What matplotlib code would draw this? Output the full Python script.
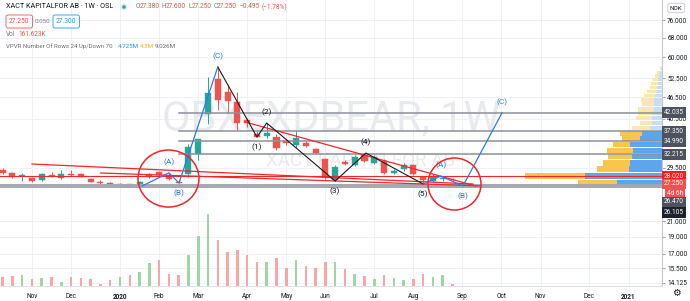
import numpy as np
import matplotlib
matplotlib.use("Agg")
import matplotlib.pyplot as plt
from matplotlib.patches import Ellipse
from matplotlib.ticker import NullLocator
import matplotlib.transforms as mtrans

plt.rcParams['font.family'] = ['Roboto', 'DejaVu Sans']

# ---------------- data ----------------
# week index: 0 = week of 6 Jan 2020 (weekly bars)
weeks = list(range(-12, 35))
opens = [29.10, 28.60, 27.95, 27.70, 27.30, 28.20, 27.66, 28.35, 28.38, 27.50, 27.00, 26.75,
         26.45, 26.60, 26.40, 27.80, 28.70, 28.10, 27.00, 28.30, 32.30, 41.70, 52.20, 48.00,
         45.00, 40.10, 36.70, 36.20, 36.00, 35.10, 34.20, 34.60, 33.30, 31.25, 27.25, 30.65,
         30.07, 32.06, 30.46, 30.85, 28.57, 29.31, 30.07, 27.84, 27.14, 27.55, 27.38]
highs = [29.50, 28.80, 28.50, 27.90, 28.50, 28.80, 29.10, 29.10, 28.60, 27.70, 27.30, 26.90,
         26.80, 26.70, 27.10, 28.60, 28.90, 28.60, 27.30, 34.50, 35.60, 52.90, 56.40, 50.20,
         48.00, 40.70, 37.40, 39.36, 36.80, 35.50, 37.60, 35.00, 33.60, 31.50, 30.00, 31.05,
         32.00, 32.47, 32.10, 31.30, 29.40, 30.40, 30.30, 28.00, 28.30, 28.10, 27.60]
lows = [28.40, 27.60, 27.20, 27.00, 27.10, 27.90, 27.50, 28.00, 27.80, 26.90, 26.60, 26.40,
        26.30, 26.10, 26.30, 27.70, 28.00, 27.30, 26.75, 27.80, 31.00, 39.00, 42.80, 42.00,
        37.60, 38.40, 35.98, 35.70, 33.20, 34.20, 33.50, 33.70, 32.20, 27.50, 27.14, 30.00,
        29.90, 30.70, 30.30, 28.40, 28.30, 29.00, 28.20, 26.62, 26.90, 27.20, 27.25]
closes = [28.57, 27.90, 28.20, 27.10, 28.35, 28.00, 28.38, 28.20, 27.90, 27.00, 26.75, 26.50,
          26.60, 26.20, 26.95, 28.40, 28.20, 27.50, 26.85, 33.70, 35.50, 47.70, 45.60, 45.30,
          39.40, 39.40, 36.10, 36.90, 33.50, 34.60, 35.70, 34.00, 32.50, 27.84, 29.70, 30.26,
          31.65, 30.85, 31.65, 28.57, 28.93, 30.07, 28.38, 27.31, 28.02, 27.745, 27.25]
volume_k = [850, 950, 1050, 650, 750, 850, 350, 850, 750, 650, 150, 550,
            850, 1050, 1350, 2250, 2550, 1150, 1050, 3050, 5000, 7150, 4550, 3350,
            3550, 3050, 2350, 2350, 2750, 1750, 2550, 1950, 1750, 2350, 2350, 1700,
            1150, 950, 650, 1050, 750, 550, 650, 1150, 850, 1050, 162]

# Visible-range volume profile (24 rows, bottom to top), thousands of shares
vp_up_k = [488, 835, 358, 347, 326, 315, 347, 239, 217, 130, 108, 108,
           108, 87, 87, 87, 76, 65, 54, 43, 43, 33, 22, 11]
vp_down_k = [423, 651, 347, 293, 260, 282, 184, 195, 239, 195, 130, 174,
             152, 174, 130, 141, 119, 98, 76, 76, 65, 43, 33, 11]

tick_weeks = [-9, -5, 0, 4, 8, 13, 17, 21, 26, 30, 35, 39, 43, 48, 52]
tick_labels = ['Nov', 'Dec', '2020', 'Feb', 'Mar', 'Apr', 'May', 'Jun', 'Jul',
               'Aug', 'Sep', 'Oct', 'Nov', 'Dec', '2021']
price_ticks = [76.0, 68.0, 60.0, 52.5, 46.5, 40.5, 29.5, 21.0, 19.0, 17.0, 15.5, 14.125]

# drawings
resistance_levels = [42.035, 37.35, 34.99, 32.215]
resistance_start_week = 6.0
support_levels = [26.47, 26.105]
poc_level = 28.02
last_price = 27.25

trend_long_w = [-9.0, 36.1]
trend_long_p = [30.26, 26.62]
trend_low_w = [-2.0, 36.8]
trend_low_p = [28.57, 26.30]
trend_up_w = [12.8, 36.4]
trend_up_p = [39.61, 26.28]

wave_black_w = [10.0, 14.0, 15.0, 22.0, 25.15, 31.0]
wave_black_p = [56.40, 35.98, 39.36, 27.14, 32.47, 26.62]
wave_black_lbl = ['', '(1)', '(2)', '(3)', '(4)', '(5)']
wave_black_dir = [0, -1, 1, -1, 1, -1]

wave_blue1_w = [2.25, 5.0, 6.03, 10.0]
wave_blue1_p = [26.28, 28.60, 26.79, 56.40]
wave_blue2_w = [31.0, 32.8, 35.07, 39.06]
wave_blue2_p = [26.62, 28.02, 26.28, 42.0]
blue_lbl = ['', '(A)', '(B)', '(C)']
blue_dir = [0, 1, -1, 1]

circles_w = [4.96, 34.2]
circles_p = [27.57, 26.62]

# ---------------- styling ----------------
GREEN = '#26a69a'
RED = '#ef5350'
VGREEN = '#9ed6a8'
VRED = '#f7a7a5'
LINE_RED = '#f0262b'
BLUE = '#2f7ae5'
GRAY_LINE = '#8d9099'
TXT = '#131722'
GRID = '#eff1f6'

FW, FH = 690.0, 301.0
PW, PH = 662.0, 285.5
rect = [0.0, 1 - PH / FH, PW / FW, PH / FH]
XLIM = (-12.27, 55.42)
YLIM = (13.89, 86.6)

fig = plt.figure(figsize=(FW / 100, FH / 100), dpi=100)
fig.patch.set_facecolor('white')


def setup(a, logy=True):
    a.set_xlim(*XLIM)
    if logy:
        a.set_yscale('log')
        a.set_ylim(*YLIM)
    a.patch.set_visible(False)
    for s in a.spines.values():
        s.set_visible(False)
    a.set_xticks([])
    a.set_yticks([])
    a.yaxis.set_minor_locator(NullLocator())
    a.xaxis.set_minor_locator(NullLocator())


# background: grid + watermark
ax_bg = fig.add_axes(rect, zorder=0)
setup(ax_bg)
for t in tick_weeks:
    ax_bg.axvline(t, color=GRID, lw=0.7)
for p in price_ticks:
    ax_bg.axhline(p, color=GRID, lw=0.7)
ax_bg.text(331 / PW, 1 - 119 / PH, 'OBXEXDBEAR, 1W', transform=ax_bg.transAxes,
           ha='center', va='center', fontsize=30, color='#e8eaee')
ax_bg.text(361 / PW, 1 - 161 / PH, 'XACT KAPITALFOR AB', transform=ax_bg.transAxes,
           ha='center', va='center', fontsize=13.5, color='#e8eaee')

# volume
ax_vol = fig.add_axes(rect, zorder=1)
setup(ax_vol, logy=False)
ax_vol.set_ylim(0, 28550)
up = np.array(closes) >= np.array(opens)
ax_vol.bar(weeks, volume_k, width=0.26, color=[VGREEN if u else VRED for u in up])

# volume profile
ax_vp = fig.add_axes(rect, zorder=2)
setup(ax_vp)
ax_vp.set_xlim(7200, 0)
vu = np.array(vp_up_k, float)
vd = np.array(vp_down_k, float)
tot = vu + vd
edges = np.linspace(min(lows), max(highs), len(vu) + 1)
step = edges[1] - edges[0]
poc = int(np.argmax(tot))
va = {poc}
acc = tot[poc]
lo_i, hi_i = poc, poc
while acc < 0.7 * tot.sum():
    below = tot[lo_i - 1] if lo_i > 0 else -1
    above = tot[hi_i + 1] if hi_i < len(tot) - 1 else -1
    if above >= below:
        hi_i += 1
        va.add(hi_i)
        acc += tot[hi_i]
    else:
        lo_i -= 1
        va.add(lo_i)
        acc += tot[lo_i]
up_cols = ['#5da6ec' if i in va else '#c4dff6' for i in range(len(vu))]
dn_cols = ['#f8c64e' if i in va else '#fce6b2' for i in range(len(vu))]
ax_vp.barh(edges[:-1] + step * 0.06, vu, height=step * 0.88, left=0, align='edge',
           color=up_cols, lw=0)
ax_vp.barh(edges[:-1] + step * 0.06, vd, height=step * 0.88, left=vu, align='edge',
           color=dn_cols, lw=0)

# main price axes
ax = fig.add_axes(rect, zorder=3)
ax.set_xlim(*XLIM)
ax.set_yscale('log')
ax.set_ylim(*YLIM)
ax.patch.set_visible(False)

o = np.array(opens); c = np.array(closes); h = np.array(highs); l = np.array(lows)
cols = [GREEN if u else RED for u in up]
ax.vlines(weeks, l, h, colors=cols, lw=0.7, zorder=3)
blo = np.minimum(o, c)
bh = np.maximum(np.maximum(o, c) - blo, 0.07)
ax.bar(weeks, bh, bottom=blo, width=0.62, color=cols, edgecolor=cols, lw=0.3, zorder=4)

# horizontal drawings
for p in resistance_levels:
    ax.plot([resistance_start_week, XLIM[1]], [p, p], color=GRAY_LINE, lw=1.1, zorder=5)
for p in support_levels:
    ax.axhline(p, color='#a4a7b0', lw=1.4, zorder=5)
ax.axhline(poc_level, color=LINE_RED, lw=0.8, zorder=5)

# trend lines
for tw, tp in [(trend_long_w, trend_long_p), (trend_low_w, trend_low_p), (trend_up_w, trend_up_p)]:
    ax.plot(tw, tp, color=LINE_RED, lw=0.9, zorder=6)

# waves
ax.plot(wave_black_w, wave_black_p, color='#1a1a1a', lw=0.8, zorder=7)
ax.plot(wave_blue1_w, wave_blue1_p, color=BLUE, lw=0.9, zorder=7)
ax.plot(wave_blue2_w, wave_blue2_p, color=BLUE, lw=0.9, zorder=7)


def wave_labels(ws, ps, labels, dirs, color):
    for w, p, s, d in zip(ws, ps, labels, dirs):
        if s:
            ax.annotate(s, (w, p), xytext=(0, 7.5 * d), textcoords='offset points',
                        ha='center', va='center', fontsize=6, color=color, zorder=8)


wave_labels(wave_black_w, wave_black_p, wave_black_lbl, wave_black_dir, TXT)
wave_labels(wave_blue1_w, wave_blue1_p, blue_lbl, blue_dir, BLUE)
wave_labels(wave_blue2_w, wave_blue2_p, blue_lbl, blue_dir, BLUE)

# circles
for cw, cp, rx, ry in zip(circles_w, circles_p, [30.5, 26.5], [28.5, 26.0]):
    axc = ax.transAxes.inverted().transform(ax.transData.transform((cw, cp)))
    ax.add_patch(Ellipse(axc, 2 * rx / PW, 2 * ry / PH, transform=ax.transAxes,
                         fill=False, ec=LINE_RED, lw=1.1, zorder=8))

# axes styling
for s in ['top', 'left']:
    ax.spines[s].set_visible(False)
ax.spines['right'].set_color('#c5c8cf')
ax.spines['right'].set_linewidth(0.8)
ax.spines['bottom'].set_color('#e0e3eb')
ax.spines['bottom'].set_linewidth(0.8)
ax.yaxis.tick_right()
ax.set_yticks(price_ticks)
ax.set_yticklabels([f'{p:.3f}' for p in price_ticks])
ax.yaxis.set_minor_locator(NullLocator())
ax.tick_params(axis='y', length=2.5, width=0.5, color='#787b86', labelsize=4.7,
               labelcolor=TXT, pad=1.2)
ax.set_xticks(tick_weeks)
ax.set_xticklabels(tick_labels)
ax.tick_params(axis='x', length=0, labelsize=4.7, labelcolor=TXT, pad=5.2)
for lbl in ax.get_xticklabels():
    if lbl.get_text().isdigit():
        lbl.set_fontweight('bold')

# price tags on the right axis
bt = mtrans.blended_transform_factory(ax.transAxes, ax.transData)
tags = [(42.035, '42.035', '#4c525e', 0), (37.35, '37.350', '#4c525e', 0),
        (34.99, '34.990', '#4c525e', 0), (32.215, '32.215', '#4c525e', 0),
        (poc_level, '28.020', '#ff1a1a', 0), (last_price, '27.250', RED, -2.6),
        (last_price, '4d 6h', RED, -9.3), (support_levels[0], '26.470', '#4c525e', -12.3),
        (support_levels[1], '26.105', '#1e222d', -18.0)]
for p, s, fc, dy in tags:
    dx = 3.5 if s == '4d 6h' else 1.2
    ax.annotate(s, (1.0, p), xycoords=bt, xytext=(dx, dy), textcoords='offset points',
                ha='left', va='center', fontsize=4.7, color='white', annotation_clip=False,
                bbox=dict(boxstyle='square,pad=0.3', fc=fc, ec='none'), zorder=10)


# header texts
def ftext(x, y, s, **kw):
    kw.setdefault('fontsize', 5.0)
    kw.setdefault('color', TXT)
    return fig.text(x / FW, 1 - y / FH, s, va='center', ha='left', **kw)


ftext(6, 7, 'XACT KAPITALFOR AB · 1W · OSL', fontsize=5.2)
fig.patches.append(Ellipse((124 / FW, 1 - 7 / FH), 7 / FW, 7 / FH, transform=fig.transFigure,
                           fc='#d7f0ec', ec='none'))
fig.patches.append(Ellipse((124 / FW, 1 - 7 / FH), 3.5 / FW, 3.5 / FH, transform=fig.transFigure,
                           fc=GREEN, ec='none'))
seg = [(136, 'O', '#787b86'), (140, '27.380', RED), (162, 'H', '#787b86'), (166, '27.600', RED),
       (189, 'L', '#787b86'), (192, '27.250', RED), (214, 'C', '#787b86'), (217, '27.250', RED),
       (240, '−0.495', RED), (262, '(−1.78%)', RED)]
for x, s, col in seg:
    ftext(x, 7, s, fontsize=4.7, color=col)
ftext(9, 21.5, '27.250', fontsize=4.8, color=RED,
      bbox=dict(boxstyle='round,pad=0.45,rounding_size=0.3', fc='white', ec=RED, lw=0.6))
ftext(35, 21.5, '0.050', fontsize=4.5, color='#787b86')
ftext(56, 21.5, '27.300', fontsize=4.8, color='#2196f3',
      bbox=dict(boxstyle='round,pad=0.45,rounding_size=0.3', fc='white', ec='#2196f3', lw=0.6))
ftext(6, 34, 'Vol', fontsize=4.7, color='#787b86')
ftext(18, 34, '161.623K', fontsize=4.7, color=RED)
ftext(6, 46, 'VPVR Number Of Rows 24 Up/Down 70', fontsize=4.4, color='#6a6d78')
ftext(118, 46, '4.725M', fontsize=4.5, color='#2196f3')
ftext(140, 46, '4.3M', fontsize=4.5, color='#f2b81d')
ftext(155, 46, '9.026M', fontsize=4.5, color='#6a6d78')

# currency box and settings icon
ftext(670, 8, 'NOK', fontsize=4.5, color=TXT,
      bbox=dict(boxstyle='round,pad=0.35,rounding_size=0.3', fc='white', ec='#c5c8cf', lw=0.6))
fig.text(676 / FW, 1 - 293 / FH, '⚙', fontsize=7, color=TXT, ha='center', va='center',
         family='DejaVu Sans')

fig.savefig('out.png', dpi=100, facecolor='white')
